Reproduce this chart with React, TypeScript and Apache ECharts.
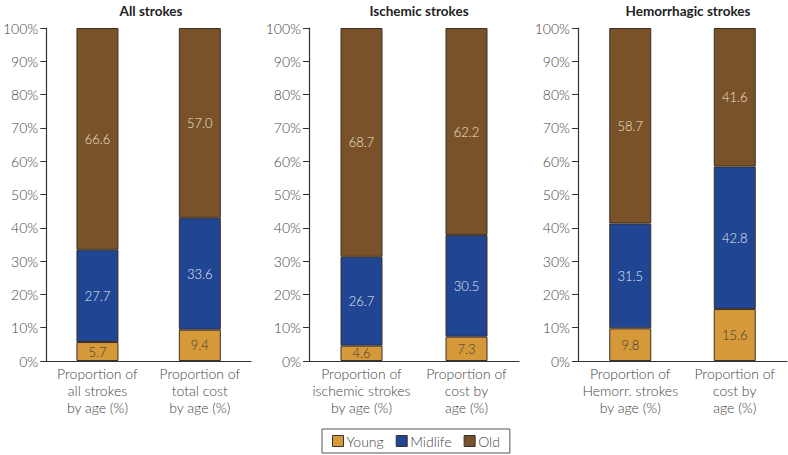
import React, { useEffect, useRef } from "react";
import * as echarts from "echarts";

const panelTitles = ["All strokes", "Ischemic strokes", "Hemorrhagic strokes"];
const panelCategories = [
  ["Proportion of\nall strokes\nby age (%)", "Proportion of\ntotal cost\nby age (%)"],
  ["Proportion of\nischemic strokes\nby age (%)", "Proportion of\ncost by\nage (%)"],
  ["Proportion of\nHemorr. strokes\nby age (%)", "Proportion of\ncost by\nage (%)"],
];
const seriesNames = ["Young", "Midlife", "Old"];
const youngValues = [
  [5.7, 9.4],
  [4.6, 7.3],
  [9.8, 15.6],
];
const midlifeValues = [
  [27.7, 33.6],
  [26.7, 30.5],
  [31.5, 42.8],
];
const oldValues = [
  [66.6, 57.0],
  [68.7, 62.2],
  [58.7, 41.6],
];
const yTicks = { min: 0, max: 100, interval: 10 };

const colors = ["#D6993A", "#1F4593", "#7A5229"];
const labelColors = ["#3a3a3a", "#e6e9f2", "#efe5d6"];
const FONT = "Lato, 'Open Sans', sans-serif";

export default function App() {
  const ref = useRef<HTMLDivElement>(null);
  useEffect(() => {
    if (!ref.current) return;
    const chart = echarts.init(ref.current, null, { renderer: "svg" });
    const gridLefts = [41, 309, 578];
    const gridWidth = 210;
    const grids: any[] = [];
    const xAxes: any[] = [];
    const yAxes: any[] = [];
    const titles: any[] = [];
    const series: any[] = [];
    const valueSets = [youngValues, midlifeValues, oldValues];
    panelTitles.forEach((t, i) => {
      grids.push({ left: gridLefts[i], width: i === 2 ? 209 : gridWidth, top: 28, height: 333 });
      titles.push({
        text: t,
        left: gridLefts[i] + gridWidth / 2,
        textAlign: "center",
        top: -1,
        textStyle: { fontFamily: FONT, fontSize: 13.5, fontWeight: "bold", color: "#222" },
      });
      xAxes.push({
        type: "category",
        gridIndex: i,
        data: panelCategories[i],
        axisLine: { lineStyle: { color: "#333", width: 1.2 } },
        axisTick: { show: false },
        axisLabel: {
          interval: 0,
          margin: 4,
          fontFamily: FONT,
          fontWeight: 300,
          fontSize: 14,
          lineHeight: 17,
          color: "#444",
        },
      });
      yAxes.push({
        type: "value",
        gridIndex: i,
        min: yTicks.min,
        max: yTicks.max,
        interval: yTicks.interval,
        axisLine: { show: true, lineStyle: { color: "#333", width: 1.2 } },
        axisTick: { show: true, length: 6, lineStyle: { color: "#333" } },
        splitLine: { show: false },
        axisLabel: {
          formatter: "{value}%",
          margin: 8,
          fontFamily: FONT,
          fontWeight: 300,
          fontSize: 14,
          color: "#444",
        },
      });
      seriesNames.forEach((name, s) => {
        series.push({
          name,
          type: "bar",
          stack: "p" + i,
          xAxisIndex: i,
          yAxisIndex: i,
          barWidth: 42,
          data: valueSets[s][i],
          itemStyle: { color: colors[s], borderColor: "#3a3028", borderWidth: 1 },
          label: {
            show: true,
            position: "inside",
            formatter: (p: any) => Number(p.value).toFixed(1),
            fontFamily: FONT,
            fontWeight: 300,
            fontSize: 13,
            color: labelColors[s],
          },
        });
      });
    });
    chart.setOption({
      animation: false,
      backgroundColor: "#fff",
      title: titles,
      grid: grids,
      xAxis: xAxes,
      yAxis: yAxes,
      series,
      legend: {
        data: seriesNames,
        left: 322,
        top: 429,
        itemWidth: 11,
        itemHeight: 11,
        itemGap: 12,
        icon: "rect",
        borderColor: "#555",
        borderWidth: 1,
        padding: [5, 10, 5, 10],
        itemStyle: { borderColor: "#333", borderWidth: 1 },
        textStyle: { fontFamily: FONT, fontWeight: 300, fontSize: 14, color: "#444", padding: [0, 0, 0, -2] },
      },
    });
    return () => chart.dispose();
  }, []);
  return <div ref={ref} style={{ width: 788, height: 455, position: "absolute", left: 0, top: 0 }} />;
}
